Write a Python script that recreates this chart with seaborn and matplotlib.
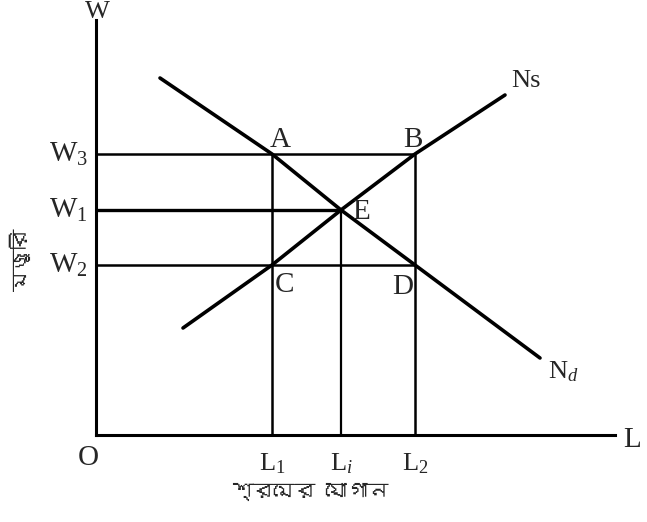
import matplotlib
matplotlib.use("Agg")
import matplotlib.pyplot as plt
from matplotlib import font_manager
from matplotlib.ft2font import FT2Font
import seaborn as sns
import pandas as pd

# wage levels and labour quantities
wage_labels = ["W$_3$", "W$_1$", "W$_2$"]
wages = [281, 225, 170]
labour_labels = ["L$_1$", "L$_i$", "L$_2$"]
labour = [176, 245, 319]

# demand (Nd) and supply (Ns) lines
demand_x = [64, 176, 245, 319, 444]
demand_y = [357, 281, 225, 170, 77]
supply_x = [87, 176, 245, 319, 409]
supply_y = [107, 170, 225, 281, 340]

point_names = ["A", "B", "E", "C", "D"]
point_x = [176, 319, 245, 176, 319]
point_y = [281, 281, 225, 170, 170]


def find_bengali_font():
    for f in font_manager.fontManager.ttflist:
        try:
            if 0x09B6 in FT2Font(f.fname).get_charmap():
                return f.name
        except Exception:
            pass
    return None


sns.set_style("white")
plt.rcParams["mathtext.fontset"] = "custom"
plt.rcParams["mathtext.rm"] = "Liberation Serif"
plt.rcParams["mathtext.it"] = "Liberation Serif:italic"
plt.rcParams["font.family"] = ["Liberation Serif", "DejaVu Serif"]
bn = find_bengali_font()
bn_family = [bn, "DejaVu Sans"] if bn else ["DejaVu Sans"]

fig = plt.figure(figsize=(6.47, 5.22), dpi=100)
ax = fig.add_axes([96 / 647, 87 / 522, 519 / 647, 415 / 522])

df_d = pd.DataFrame({"x": demand_x, "y": demand_y})
df_s = pd.DataFrame({"x": supply_x, "y": supply_y})
sns.lineplot(data=df_d, x="x", y="y", ax=ax, color="black", lw=2.6, sort=False)
sns.lineplot(data=df_s, x="x", y="y", ax=ax, color="black", lw=2.6, sort=False)

# horizontal guides: W3 -> B, W1 -> E, W2 -> D
ax.hlines(wages[0], 0, labour[2], color="black", lw=1.8)
ax.hlines(wages[1], 0, labour[1], color="black", lw=2.4)
ax.hlines(wages[2], 0, labour[2], color="black", lw=1.8)
# vertical guides: L1 -> A, Li -> E, L2 -> B
ax.vlines(labour[0], 0, wages[0], color="black", lw=1.8)
ax.vlines(labour[1], 0, wages[1], color="black", lw=1.6)
ax.vlines(labour[2], 0, wages[0], color="black", lw=1.8)

ax.set_xlim(0, 519)
ax.set_ylim(0, 415)
sns.despine(ax=ax)
for s in ["left", "bottom"]:
    ax.spines[s].set_linewidth(2.2)
    ax.spines[s].set_color("black")
ax.set_xticks([])
ax.set_yticks([])
ax.set_xlabel("")
ax.set_ylabel("")

fs = 21
for lab, w in zip(wage_labels, wages):
    ax.text(-8, w, lab, ha="right", va="center", fontsize=fs)
for lab, l in zip(labour_labels, labour):
    ax.text(l, -16, lab, ha="center", va="top", fontsize=fs - 2)

offsets = {"A": (8, 14), "B": (-2, 14), "E": (20, -2), "C": (12, -20), "D": (-12, -22)}
for n, x, y in zip(point_names, point_x, point_y):
    dx, dy = offsets[n]
    ax.text(x + dx, y + dy, n, ha="center", va="center", fontsize=fs)

ax.text(demand_x[-1] + 8, demand_y[-1] - 14, "N$_d$", ha="left", va="center", fontsize=fs - 2)
ax.text(supply_x[-1] + 6, supply_y[-1] + 14, "Ns", ha="left", va="center", fontsize=fs - 2)

ax.text(1, 423, "W", ha="center", va="center", fontsize=fs - 2)
ax.text(527, -5, "L", ha="left", va="center", fontsize=fs)
ax.text(-8, -10, "O", ha="center", va="top", fontsize=fs)

ax.text(214, -48, "শ্রমের যোগান", ha="center", va="top", fontsize=15,
        family=bn_family, fontweight="bold")
ax.text(-76, 175, "মজুরি", ha="center", va="center", rotation=90,
        fontsize=15, family=bn_family, fontweight="bold")

fig.savefig("out.png", dpi=100)
